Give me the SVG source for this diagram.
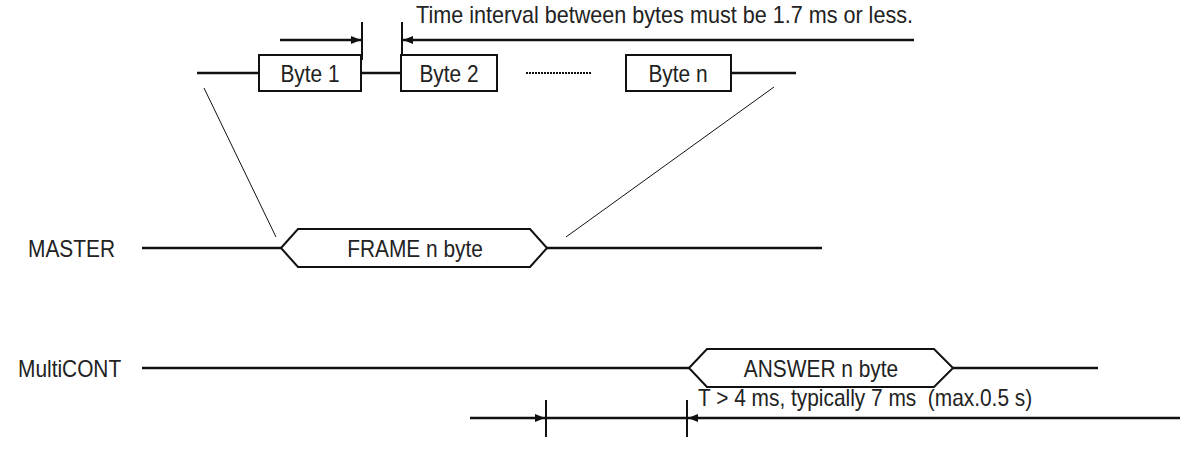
<svg xmlns="http://www.w3.org/2000/svg" width="1196" height="466" viewBox="0 0 1196 466">
<style>
text{font-family:"Liberation Sans",Arial,sans-serif;font-size:24px;fill:#222}
.w{stroke:#111;stroke-width:2.5;fill:none}
.b{stroke:#111;stroke-width:2;fill:#fff}
.t{stroke:#111;stroke-width:1;fill:none}
.tick{stroke:#111;stroke-width:2}
.c{text-anchor:middle}
</style>
<defs>
<marker id="ar" markerWidth="10" markerHeight="8" refX="10" refY="4" orient="auto" markerUnits="userSpaceOnUse">
<path d="M0,0 L10,4 L0,8 Z" fill="#111"/>
</marker>
</defs>
<g id="connectors">
<line class="w" x1="280" y1="40" x2="361" y2="40" marker-end="url(#ar)"/>
<line class="w" x1="914" y1="40" x2="403" y2="40" marker-end="url(#ar)"/>
<line class="tick" x1="362" y1="22" x2="362" y2="60"/>
<line class="tick" x1="402" y1="22" x2="402" y2="60"/>
<line class="w" x1="197" y1="73" x2="259" y2="73"/>
<line class="w" x1="361" y1="73" x2="401" y2="73"/>
<line x1="526" y1="73" x2="591" y2="73" stroke="#111" stroke-width="2" stroke-dasharray="2 1"/>
<line class="w" x1="731" y1="73" x2="796" y2="73"/>
<line class="t" x1="204" y1="88" x2="276" y2="237"/>
<line class="t" x1="774" y1="87" x2="566" y2="237"/>
<line class="w" x1="142" y1="248" x2="281" y2="248"/>
<line class="w" x1="547" y1="248" x2="822" y2="248"/>
<line class="w" x1="142" y1="368" x2="689" y2="368"/>
<line class="w" x1="953" y1="368" x2="1098" y2="368"/>
<line class="w" x1="470" y1="418" x2="545" y2="418" marker-end="url(#ar)"/>
<line class="w" x1="546" y1="418" x2="687" y2="418"/>
<line class="w" x1="1180" y1="418" x2="688" y2="418" marker-end="url(#ar)"/>
<line class="tick" x1="546" y1="400" x2="546" y2="437"/>
<line class="tick" x1="687" y1="400" x2="687" y2="437"/>
</g>
<text x="416" y="23" textLength="497" lengthAdjust="spacingAndGlyphs">Time interval between bytes must be 1.7 ms or less.</text>
<g id="byte1"><rect class="b" x="259" y="55" width="102" height="36"/><text class="c" transform="matrix(0.87 0 0 1 310 82)">Byte 1</text></g>
<g id="byte2"><rect class="b" x="401" y="55" width="96" height="36"/><text class="c" transform="matrix(0.87 0 0 1 449 82)">Byte 2</text></g>
<g id="byten"><rect class="b" x="626" y="55" width="105" height="36"/><text class="c" transform="matrix(0.87 0 0 1 678 82)">Byte n</text></g>
<g id="master"><text transform="matrix(0.87 0 0 1 28 257)">MASTER</text></g>
<g id="frame"><path class="b" d="M281,248 L298,229 L530,229 L547,248 L530,267 L298,267 Z"/><text class="c" transform="matrix(0.87 0 0 1 415 257)">FRAME n byte</text></g>
<g id="multicont"><text transform="matrix(0.87 0 0 1 18 377)">MultiCONT</text></g>
<g id="answer"><path class="b" d="M689,368 L707,349 L934,349 L953,368 L934,387 L707,387 Z"/><text class="c" transform="matrix(0.87 0 0 1 821 377)">ANSWER n byte</text></g>
<text transform="matrix(0.87 0 0 1 698 406)">T &gt; 4 ms, typically 7 ms&#160; (max.0.5 s)</text>
</svg>
